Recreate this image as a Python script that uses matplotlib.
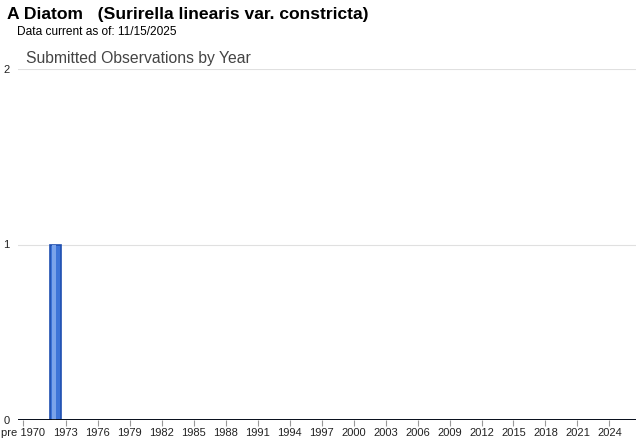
import matplotlib
matplotlib.use("Agg")
import matplotlib.pyplot as plt

plt.rcParams['font.family'] = ['Liberation Sans', 'DejaVu Sans']

categories = ["pre 1970"] + [str(y) for y in range(1970, 2027)]
values = [0] * len(categories)
values[categories.index("1972")] = 1
tick_labels = ["pre 1970"] + [str(y) for y in range(1973, 2025, 3)]
y_ticks = [0, 1, 2]

title = "A Diatom   (Surirella linearis var. constricta)"
subtitle = "Data current as of: 11/15/2025"
chart_title = "Submitted Observations by Year"

fig = plt.figure(figsize=(6.4, 4.42), dpi=100)
ax = fig.add_axes([18/640, 22/442, (636-18)/640, (420-69)/442])

x = list(range(len(categories)))
ax.bar(x, values, width=1.0, color="#3d74d8", edgecolor="#1f4fb0", linewidth=1.2, zorder=3)
ax.bar([xi - 0.12 for xi in x], [v * 0.995 for v in values], width=0.3, color="#7aa3ea", linewidth=0, zorder=4)

ax.set_xlim(-0.5, len(categories) - 0.5)
ax.set_ylim(0, 2)
ax.set_yticks(y_ticks)
ax.set_yticklabels([str(v) for v in y_ticks], fontsize=8, color="#222222")
for yv in y_ticks[1:]:
    ax.axhline(yv, color="#e0e0e0", linewidth=0.8, zorder=1)
ax.axhline(0, color="#000000", linewidth=1.2, zorder=5)

tick_pos = [categories.index(t) for t in tick_labels]
ax.set_xticks(tick_pos)
ax.set_xticklabels(tick_labels, fontsize=8, color="#222222")
ax.tick_params(axis='x', length=4, color="#999999", pad=2)
ax.tick_params(axis='y', length=0, pad=6)

for s in ax.spines.values():
    s.set_visible(False)

fig.text(7/640, 1 - 15/442, title, fontsize=12.6, fontweight='bold', va='center', ha='left', color="#000000")
fig.text(17/640, 1 - 32/442, subtitle, fontsize=8.6, va='center', ha='left', color="#000000")
fig.text(26/640, 1 - 58/442, chart_title, fontsize=11.3, va='center', ha='left', color="#444444")

fig.savefig("out.png", dpi=100)
